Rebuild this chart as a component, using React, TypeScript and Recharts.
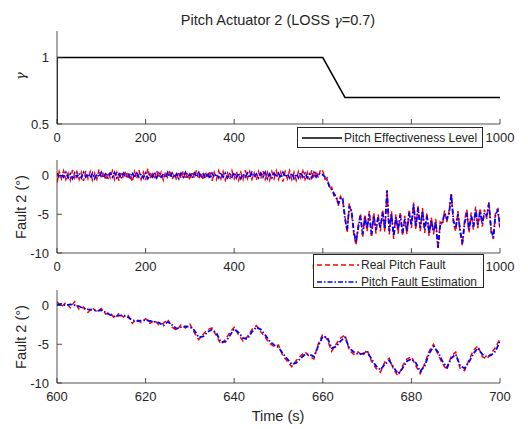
import React from 'react';
import { LineChart, Line, XAxis, YAxis } from 'recharts';

const INK = '#262626';
const FONT = '"Liberation Sans", Arial, Helvetica, sans-serif';

// effectiveness level (top panel)
const effTime = [0, 0, 600, 650, 1000];
const effLevel = [0.5, 1, 1, 0.7, 0.7];

// fault, 0..595 s every 5 s
const realEarly = [
  -0.9, 0.5, -0.4, 0.6, -0.5, 0.3, -0.6, 0.7, -0.3, 0.5,
  -0.5, 0.4, -0.7, 0.6, -0.4, 0.5, -0.6, 0.3, -0.5, 0.8,
  -0.4, 0.5, -0.6, 0.4, -0.3, 0.6, -0.5, 0.4, -0.7, 0.5,
  -0.4, 0.6, -0.5, 0.3, -0.8, 0.5, -0.4, 0.7, -0.5, 0.4,
  -0.6, 0.9, -0.4, 0.5, -0.5, 0.6, -0.3, 0.4, -0.6, 0.5,
  -0.4, 0.7, -0.5, 0.3, -0.6, 0.5, -0.4, 0.6, -0.5, 0.4,
  -0.6, 0.5, -0.3, 0.7, -0.5, 0.4, -0.6, 0.5, -0.4, 0.6,
  -0.7, 0.4, -0.5, 0.6, -0.4, 0.5, -0.6, 0.3, -0.5, 0.6,
  -0.4, 0.5, -0.6, 0.4, -0.5, 0.7, -0.4, 0.5, -0.5, 0.3,
  -0.6, 0.5, -0.4, 0.6, -0.5, 0.4, -0.6, 0.5, -0.4, 0.6,
  -0.5, 0.4, -0.8, 0.5, -0.4, 0.6, -0.5, 0.4, -0.6, 0.5,
  -0.3, 0.6, -0.5, 0.4, -0.6, 0.7, -0.4, 0.6, -0.3, 0.8,
];
const estEarly = [
  0.3, -0.3, 0.2, -0.2, 0.4, -0.3, 0.2, -0.4, 0.3, -0.2,
  0.3, -0.3, 0.4, -0.2, 0.2, -0.3, 0.3, -0.4, 0.2, -0.2,
  0.4, -0.3, 0.2, -0.3, 0.3, -0.2, 0.4, -0.3, 0.2, -0.4,
  0.3, -0.2, 0.2, -0.3, 0.4, -0.3, 0.3, -0.2, 0.2, -0.3,
  0.3, -0.4, 0.2, -0.2, 0.4, -0.3, 0.3, -0.2, 0.2, -0.3,
  0.4, -0.2, 0.3, -0.3, 0.2, -0.4, 0.3, -0.2, 0.4, -0.3,
  0.2, -0.3, 0.3, -0.2, 0.4, -0.3, 0.2, -0.3, 0.3, -0.4,
  0.3, -0.2, 0.2, -0.3, 0.4, -0.2, 0.3, -0.3, 0.2, -0.2,
  0.4, -0.3, 0.3, -0.4, 0.2, -0.2, 0.3, -0.3, 0.4, -0.2,
  0.2, -0.3, 0.3, -0.2, 0.4, -0.4, 0.2, -0.3, 0.3, -0.2,
  0.3, -0.3, 0.4, -0.2, 0.2, -0.3, 0.3, -0.4, 0.2, -0.3,
  0.4, -0.2, 0.3, -0.3, 0.2, -0.3, 0.4, -0.2, 0.3, 0.1,
];
// fault, 600..1000 s every 5 s
const realLate = [
  0.6, -0.5, -0.3, -1.7, -1.5, -2.6, -2.5, -3.9, -2.7, -3.3,
  -5.2, -7.4, -3.6, -5.0, -7.6, -9.0, -6.4, -4.9, -8.0, -5.0,
  -7.2, -4.6, -8.0, -4.8, -7.5, -5.0, -7.2, -4.4, -7.3, -2.1,
  -7.6, -4.6, -8.2, -5.0, -7.5, -4.7, -7.8, -5.2, -7.6, -4.4,
  -6.8, -3.5, -7.0, -3.8, -7.2, -4.2, -7.4, -4.8, -7.8, -5.4,
  -7.6, -5.6, -9.5, -6.0, -6.4, -4.5, -6.0, -4.6, -2.2, -6.2,
  -7.2, -4.6, -7.4, -9.0, -5.8, -4.4, -7.4, -4.8, -7.0, -4.0,
  -6.8, -4.2, -6.6, -4.4, -5.6, -3.4, -7.4, -8.2, -4.6, -4.3,
  -7.0,
];
const estLate = [
  0.1, -0.2, -0.6, -1.4, -1.8, -2.3, -2.8, -3.6, -2.9, -3.0,
  -5.6, -7.0, -3.9, -4.6, -7.2, -8.6, -6.8, -5.2, -7.6, -5.4,
  -6.8, -5.0, -7.6, -5.2, -7.0, -5.4, -6.8, -4.8, -6.9, -1.9,
  -7.2, -5.0, -7.8, -5.4, -7.0, -5.1, -7.4, -5.6, -7.2, -4.8,
  -6.4, -3.8, -6.6, -4.2, -6.8, -4.6, -7.0, -5.2, -7.4, -5.8,
  -7.2, -6.0, -9.3, -6.4, -6.0, -4.9, -5.6, -5.0, -2.4, -5.8,
  -6.8, -5.0, -7.0, -8.8, -6.2, -4.8, -7.0, -5.2, -6.6, -4.4,
  -6.4, -4.6, -6.2, -4.8, -5.2, -3.6, -7.0, -8.0, -5.0, -4.5,
  -6.6,
];

// zoomed window 600..700 s every 1 s
const zoomReal = [
  0.5, -0.2, 0.4, -0.3, 0.5, -0.5, -0.2, -0.9, -0.3, -0.8,
  -0.4, -1.1, -0.9, -1.7, -1.0, -1.5, -1.2, -2.3, -1.8, -2.2,
  -1.7, -2.3, -1.9, -2.5, -2.3, -1.8, -2.8, -3.2, -2.5, -2.9,
  -2.4, -3.5, -4.4, -3.7, -3.1, -2.9, -3.9, -5.0, -4.4, -3.5,
  -2.8, -3.8, -4.6, -4.0, -3.1, -2.6, -3.4, -4.1, -4.9, -5.3,
  -5.1, -6.5, -7.2, -7.9, -7.1, -6.5, -6.0, -6.6, -6.9, -4.9,
  -3.7, -4.4, -5.9, -5.0, -4.2, -3.8, -5.8, -6.3, -6.0, -6.5,
  -5.7, -7.2, -8.1, -8.6, -7.3, -6.8, -8.3, -9.1, -7.8, -6.9,
  -6.6, -7.8, -8.8, -7.5, -5.9, -5.0, -6.3, -7.5, -8.3, -6.5,
  -6.0, -8.1, -8.4, -7.0, -5.8, -5.2, -6.6, -6.9, -6.2, -5.4,
  -4.3,
];
const zoomEst = [
  0.1, 0.2, 0.0, 0.15, 0.05, -0.1, -0.4, -0.5, -0.55, -0.7,
  -0.6, -0.9, -1.2, -1.4, -1.3, -1.25, -1.5, -1.9, -2.0, -1.95,
  -1.9, -2.0, -2.1, -2.2, -2.6, -2.1, -2.5, -3.0, -2.8, -2.7,
  -2.75, -3.2, -4.1, -4.0, -3.4, -3.1, -3.6, -4.7, -4.7, -3.9,
  -3.0, -3.5, -4.2, -4.3, -3.4, -2.8, -3.1, -3.8, -4.6, -5.1,
  -5.4, -6.2, -6.9, -7.6, -7.4, -6.8, -6.3, -6.3, -6.6, -5.2,
  -4.0, -4.1, -5.5, -5.3, -4.6, -4.1, -5.5, -6.0, -6.3, -6.2,
  -6.0, -6.9, -7.8, -8.3, -7.6, -7.1, -8.0, -8.8, -8.1, -7.2,
  -6.9, -7.4, -8.5, -7.8, -6.2, -5.3, -6.0, -7.2, -8.0, -6.8,
  -6.3, -7.8, -8.1, -7.3, -6.2, -5.5, -6.3, -6.6, -6.4, -5.9,
  -4.6,
];

const fullTicks = [0, 200, 400, 600, 800, 1000];
const zoomTicks = [600, 620, 640, 660, 680, 700];
const gammaTicks = [0.5, 1];
const faultTicks = [-10, -5, 0];

const effData = effTime.map((t, i) => ({ t, v: effLevel[i] }));
const fullReal = [...realEarly, ...realLate];
const fullEst = [...estEarly, ...estLate];
const fullData = fullReal.map((r, i) => ({ t: i * 5, real: r, est: fullEst[i] }));
const zoomData = zoomReal.map((r, i) => ({ t: 600 + i, real: r, est: zoomEst[i] }));

// tick labels that sit under a legend box are not visible in the figure
const makeBottomTick = (covered: number[]) => ({ x, y, payload }: any) => (
  <g>
    <line x1={x} y1={y} x2={x} y2={y - 5} stroke={INK} strokeWidth={0.8} />
    {!covered.includes(payload.value) && (
      <text x={x} y={y + 18} textAnchor="middle" fill={INK} fontSize={13} fontFamily={FONT}>
        {payload.value}
      </text>
    )}
  </g>
);
const TopTick = ({ x, y }: any) => (
  <line x1={x} y1={y} x2={x} y2={y + 5} stroke={INK} strokeWidth={0.8} />
);
const LeftTick = ({ x, y, payload }: any) => (
  <g>
    <line x1={x} y1={y} x2={x + 5} y2={y} stroke={INK} strokeWidth={0.8} />
    <text x={x - 8} y={y + 4.6} textAnchor="end" fill={INK} fontSize={13} fontFamily={FONT}>
      {payload.value}
    </text>
  </g>
);
const RightTick = ({ x, y }: any) => (
  <line x1={x} y1={y} x2={x - 5} y2={y} stroke={INK} strokeWidth={0.8} />
);

function Panel({ top, data, xDomain, xTicks, yDomain, yTicks, covered = [], children }: any) {
  const line = { stroke: INK, strokeWidth: 0.8 };
  return (
    <div style={{ position: 'absolute', left: 0, top }}>
      <LineChart width={528} height={150} data={data} margin={{ top: 31, right: 28, bottom: 6, left: 17 }}>
        <XAxis dataKey="t" type="number" domain={xDomain} ticks={xTicks} interval={0} height={20}
          tickSize={0} tickMargin={0} tickLine={false} axisLine={line} tick={makeBottomTick(covered)} allowDataOverflow />
        <XAxis xAxisId="top" orientation="top" type="number" domain={xDomain} ticks={xTicks} interval={0}
          height={0} tickSize={0} tickMargin={0} tickLine={false} axisLine={line} tick={TopTick} allowDataOverflow />
        <YAxis type="number" domain={yDomain} ticks={yTicks} interval={0} width={40}
          tickSize={0} tickMargin={0} tickLine={false} axisLine={line} tick={LeftTick} allowDataOverflow />
        <YAxis yAxisId="right" orientation="right" type="number" domain={yDomain} ticks={yTicks} interval={0}
          width={0} tickSize={0} tickMargin={0} tickLine={false} axisLine={line} tick={RightTick} allowDataOverflow />
        {children}
      </LineChart>
    </div>
  );
}

const faultLines = [
  <Line key="real" dataKey="real" type="linear" stroke="#ff0000" strokeWidth={1.5} strokeDasharray="5 3"
    dot={false} activeDot={false} isAnimationActive={false} />,
  <Line key="est" dataKey="est" type="linear" stroke="#0000ff" strokeWidth={1.8} strokeDasharray="5 2 1.5 2"
    dot={false} activeDot={false} isAnimationActive={false} />,
];

const rotated = (x: number, y: number, size: number): React.CSSProperties => ({
  position: 'absolute', left: x, top: y, transform: 'translate(-50%, -50%) rotate(-90deg)',
  whiteSpace: 'nowrap', fontSize: size, color: INK, fontFamily: FONT, lineHeight: 1,
});

const legendText: React.CSSProperties = {
  position: 'absolute', fontSize: 12, color: INK, lineHeight: 1, whiteSpace: 'nowrap',
};

export default function App() {
  return (
    <div style={{ position: 'absolute', left: 0, top: 0, width: 528, height: 429, background: '#fff', fontFamily: FONT }}>
      <Panel top={0} data={effData} xDomain={[0, 1000]} xTicks={fullTicks} yDomain={[0.5, 1.2]} yTicks={gammaTicks} covered={[600, 800]}>
        <Line dataKey="v" type="linear" stroke="#000" strokeWidth={1.5} dot={false} activeDot={false} isAnimationActive={false} />
      </Panel>
      <Panel top={129} data={fullData} xDomain={[0, 1000]} xTicks={fullTicks} yDomain={[-10, 2]} yTicks={faultTicks} covered={[800]}>
        {faultLines}
      </Panel>
      <Panel top={259} data={zoomData} xDomain={[600, 700]} xTicks={zoomTicks} yDomain={[-10, 2]} yTicks={faultTicks}>
        {faultLines}
      </Panel>

      <div style={{ position: 'absolute', left: 278, top: 20, transform: 'translate(-50%, -50%)', whiteSpace: 'nowrap', fontSize: 14.5, color: INK, lineHeight: 1 }}>
        Pitch Actuator 2 (LOSS <i style={{ fontFamily: '"DejaVu Serif", serif', fontSize: 13 }}>γ</i>=0.7)
      </div>
      <div style={rotated(20, 76, 13)}><i style={{ fontFamily: '"DejaVu Serif", serif' }}>γ</i></div>
      <div style={rotated(21, 207, 14.5)}>Fault 2 (°)</div>
      <div style={rotated(21, 337, 14.5)}>Fault 2 (°)</div>
      <div style={{ position: 'absolute', left: 278, top: 416, transform: 'translate(-50%, -50%)', whiteSpace: 'nowrap', fontSize: 14.5, color: INK, lineHeight: 1 }}>
        Time (s)
      </div>

      <div style={{ position: 'absolute', left: 297, top: 127, width: 186, height: 21, boxSizing: 'border-box', border: `1px solid ${INK}`, background: '#fff', zIndex: 5 }}>
        <svg width={44} height={19} style={{ position: 'absolute', left: 2, top: 0 }}>
          <line x1={2} y1={10} x2={42} y2={10} stroke="#000" strokeWidth={1.5} />
        </svg>
        <span style={{ ...legendText, left: 46, top: 4 }}>Pitch Effectiveness Level</span>
      </div>
      <div style={{ position: 'absolute', left: 313, top: 254, width: 171, height: 34, boxSizing: 'border-box', border: `1px solid ${INK}`, background: '#fff', zIndex: 5 }}>
        <svg width={46} height={32} style={{ position: 'absolute', left: 1, top: 0 }}>
          <line x1={2} y1={10} x2={44} y2={10} stroke="#ff0000" strokeWidth={1.5} strokeDasharray="5 3" />
          <line x1={2} y1={27} x2={44} y2={27} stroke="#0000ff" strokeWidth={1.5} strokeDasharray="5 2 1.5 2" />
        </svg>
        <span style={{ ...legendText, left: 47, top: 4 }}>Real Pitch Fault</span>
        <span style={{ ...legendText, left: 47, top: 21 }}>Pitch Fault Estimation</span>
      </div>
    </div>
  );
}
